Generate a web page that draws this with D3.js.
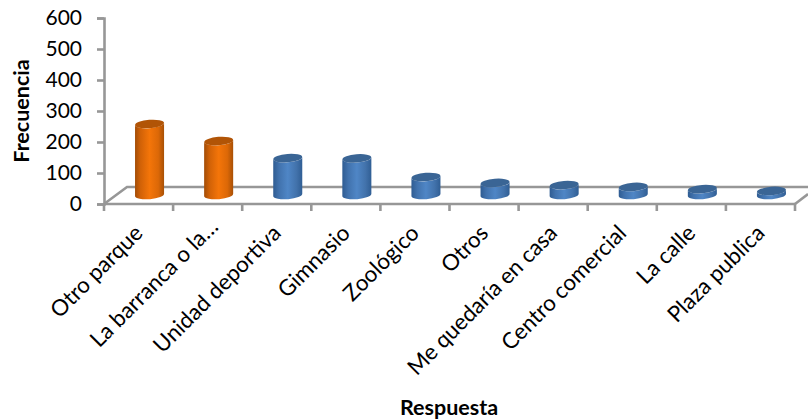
<!DOCTYPE html>
<html>
<head>
<meta charset="utf-8">
<script src="https://d3js.org/d3.v7.min.js"></script>
<style>
html,body{margin:0;padding:0;background:#fff}
svg{display:block}
text{font-family:Lato,"Open Sans",sans-serif;fill:#000}
</style>
</head>
<body>
<svg id="chart" width="808" height="420"></svg>
<script>
const categories = ["Otro parque","La barranca o la…","Unidad deportiva","Gimnasio","Zoológico","Otros","Me quedaría en casa","Centro comercial","La calle","Plaza publica"];
const frecuencia = [229,174,119,118,58,39,32,26,19,13];
const destacadas = [true,true,false,false,false,false,false,false,false,false];
const yTicks = [0,100,200,300,400,500,600];

const svg = d3.select("#chart");
const gris = "#979797";

const x = d3.scaleBand().domain(categories).range([104,795]).paddingInner(0.58).paddingOuter(0.29);
const y = d3.scaleLinear().domain([0,600]).range([204,18]);

// depth of the 3D floor, in pixels
const depthX = 23, depthY = 17, baseLift = 9, barShift = 11;

const defs = svg.append("defs");
function sideGradient(id, stops){
  const g = defs.append("linearGradient").attr("id",id).attr("x1","0").attr("x2","1").attr("y1","0").attr("y2","0");
  stops.forEach(([o,c]) => g.append("stop").attr("offset",o).attr("stop-color",c));
}
sideGradient("naranja",[[0,"#a24c06"],[0.18,"#d06107"],[0.5,"#f47509"],[0.8,"#dc6807"],[1,"#a85006"]]);
sideGradient("azul",[[0,"#2f5c92"],[0.2,"#4172ad"],[0.5,"#4f86c6"],[0.8,"#4272ab"],[1,"#305e94"]]);

// floor outline behind the bars
const floor = svg.append("g").attr("fill","none").attr("stroke",gris).attr("stroke-width",2.6);
floor.append("path").attr("d",d3.line()([
  [x.range()[0],y(0)],
  [x.range()[0]+depthX,y(0)-depthY],
  [808,y(0)-depthY]
]));
floor.append("path").attr("d",d3.line()([
  [x.range()[1],y(0)],
  [x.range()[1]+13,y(0)-10]
]));

// value axis
const axisY = svg.append("g").attr("transform",`translate(${x.range()[0]},0)`)
  .call(d3.axisLeft(y).tickValues(yTicks).tickSize(7).tickPadding(15));
axisY.selectAll("path,line").attr("stroke",gris).attr("stroke-width",2.6);
axisY.selectAll("text").style("font-size","21px").attr("fill","#000");

// category axis
const tickX = d3.range(categories.length+1).map(i => x.range()[0]+i*x.step());
const axisX = svg.append("g");
axisX.append("line").attr("x1",x.range()[0]).attr("x2",x.range()[1]).attr("y1",y(0)).attr("y2",y(0))
  .attr("stroke",gris).attr("stroke-width",2.6);
axisX.selectAll("line.marca").data(tickX).join("line").attr("class","marca")
  .attr("x1",d=>d).attr("x2",d=>d).attr("y1",y(0)).attr("y2",y(0)+7)
  .attr("stroke",gris).attr("stroke-width",2.6);

// slanted category names; a shortened name reaches a little further along its slant
svg.append("g").selectAll("text").data(categories).join("text")
  .attr("transform",d=>`translate(${x(d)+x.bandwidth()/2},229) rotate(-45)`)
  .attr("text-anchor","end")
  .attr("dx",d=>d.endsWith("…") ? 9 : 0)
  .attr("dy","0.35em")
  .style("font-size","22.3px")
  .text(d=>d);

// cylinders: the base sits a little back from the front edge of the floor
const rx = x.bandwidth()/2, ry = 4.2, tilt = 1.2, rot = -4.5;
const bars = svg.append("g").selectAll("g").data(categories).join("g");
bars.each(function(d,i){
  const g = d3.select(this);
  const l = x(d)+barShift, r = l + x.bandwidth();
  const yb = y(0)-baseLift;
  const yt = y(frecuencia[i])-baseLift;
  const main = destacadas[i] ? "naranja" : "azul";
  const top = destacadas[i] ? "#b15406" : "#3a6595";
  g.append("path")
    .attr("d",`M${l},${yt+tilt} L${l},${yb+tilt} A${rx},${ry} ${rot} 0 0 ${r},${yb-tilt} L${r},${yt-tilt} A${rx},${ry} ${rot} 0 1 ${l},${yt+tilt} Z`)
    .attr("fill",`url(#${main})`);
  g.append("ellipse")
    .attr("cx",(l+r)/2).attr("cy",yt).attr("rx",rx).attr("ry",ry)
    .attr("transform",`rotate(${rot} ${(l+r)/2} ${yt})`)
    .attr("fill",top);
});

// axis titles
svg.append("text").attr("transform","translate(21,111) rotate(-90)")
  .attr("text-anchor","middle").attr("dy","0.35em")
  .style("font-size","21.5px").style("font-weight","700").text("Frecuencia");
svg.append("text").attr("x",449).attr("y",407)
  .attr("text-anchor","middle").attr("dy","0.35em")
  .style("font-size","21.5px").style("font-weight","700").text("Respuesta");
</script>
</body>
</html>
